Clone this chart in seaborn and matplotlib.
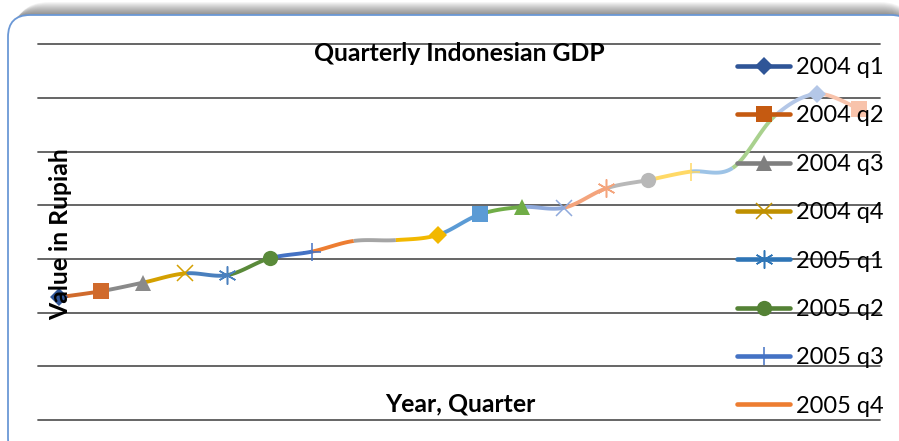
import numpy as np
import matplotlib
matplotlib.use("Agg")
import matplotlib.pyplot as plt
from matplotlib.patches import FancyBboxPatch
from matplotlib.lines import Line2D
import seaborn as sns
import pandas as pd

# ---- data ----
quarters = [f"{y} q{q}" for y in range(2004, 2009) for q in range(1, 5)]
gdp_values = [397.2, 400.0, 404.0, 408.3, 407.5, 415.3, 418.4, 423.4, 423.8, 426.2,
              435.8, 439.2, 438.9, 447.9, 451.8, 455.7, 457.4, 481.6, 491.9, 484.9]
legend_shown = quarters[:8]

point_colors = ["#2F5597", "#D06A2C", "#8A8A8A", "#D4A000", "#4A80BE", "#5A8A3A",
                "#4472C4", "#ED7D31", "#A5A5A5", "#F2B800", "#5B9BD5", "#70AD47",
                "#8FAADC", "#F4A47C", "#B8B8B8", "#FFD966", "#9DC3E6", "#A9D18E",
                "#B4C7E7", "#F8C3AB"]
legend_colors = ["#2F5597", "#C55A11", "#7F7F7F", "#BF9000", "#2E75B6", "#548235",
                 "#4472C4", "#ED7D31"]
markers = ["D", "s", "^", "x", (6, 2, 0), "o", "+", None, None,
           "D", "s", "^", "x", (6, 2, 0), "o", "+", None, None, "D", "s"]
msizes = {"D": 9, "s": 11.5, "^": 11, "x": 11, "o": 11, "+": 13}

df = pd.DataFrame({"quarter": quarters, "gdp": gdp_values})
df["pos"] = np.arange(len(df))

W, H, DPI = 899, 441, 100
sns.set_theme(style="white")
plt.rcParams["font.family"] = ["Lato", "DejaVu Sans"]
fig = plt.figure(figsize=(W / DPI, H / DPI), dpi=DPI)

# chart border with shadow (in inches, isotropic)
def px(v):
    return v / DPI
for i in range(14):
    sh = FancyBboxPatch((px(8 + i * 0.5), px(H - 460)), px(900), px(460 - 15 + i * 1.0),
                        boxstyle=f"round,pad=0,rounding_size={px(22 + i)}",
                        transform=fig.dpi_scale_trans, facecolor="#000000",
                        edgecolor="none", alpha=0.04, zorder=-10)
    fig.patches.append(sh)
box = FancyBboxPatch((px(8), px(H - 460)), px(905), px(460 - 15),
                     boxstyle=f"round,pad=0,rounding_size={px(22)}",
                     transform=fig.dpi_scale_trans, facecolor="white",
                     edgecolor="#6B98D6", linewidth=1.3, zorder=-5)
fig.patches.append(box)

ax = fig.add_axes([38 / W, (H - 420) / H, (880 - 38) / W, (420 - 44.3) / H])
ax.set_facecolor("none")
ax.set_xlim(-0.5, len(df) - 0.5)
ymin, step = 340, 25
ax.set_ylim(ymin, ymin + 7 * step)
for k in range(8):
    ax.axhline(ymin + k * step, color="#595959", lw=1.3, zorder=1, clip_on=False)
for s in ax.spines.values():
    s.set_visible(False)
ax.set_xticks([])
ax.set_yticks([])

# smoothed segments (Bezier like Excel smooth line)
x = df["pos"].to_numpy(float)
y = df["gdp"].to_numpy(float)
n = len(x)
t = np.linspace(0, 1, 30)
for i in range(n - 1):
    p0 = np.array([x[max(i - 1, 0)], y[max(i - 1, 0)]])
    p1 = np.array([x[i], y[i]])
    p2 = np.array([x[i + 1], y[i + 1]])
    p3 = np.array([x[min(i + 2, n - 1)], y[min(i + 2, n - 1)]])
    c1 = p1 + (p2 - p0) / 6
    c2 = p2 - (p3 - p1) / 6
    b = ((1 - t) ** 3)[:, None] * p1 + (3 * (1 - t) ** 2 * t)[:, None] * c1 + \
        (3 * (1 - t) * t ** 2)[:, None] * c2 + (t ** 3)[:, None] * p2
    seg = pd.DataFrame({"x": b[:, 0], "y": b[:, 1]})
    sns.lineplot(data=seg, x="x", y="y", sort=False, ax=ax, color=point_colors[i + 1],
                 lw=2.8, zorder=3, solid_capstyle="butt")

for i in range(n):
    m = markers[i]
    if m is None:
        continue
    if m == (6, 2, 0):
        ax.plot(x[i], y[i], marker=m, ms=13, mew=1.1, color=point_colors[i],
                zorder=5, ls="none")
    elif m in ("x", "+"):
        ax.plot(x[i], y[i], marker=m, ms=msizes[m], mew=1.1, color=point_colors[i],
                zorder=5, ls="none")
    else:
        ax.plot(x[i], y[i], marker=m, ms=msizes[m], mew=0, color=point_colors[i],
                zorder=5, ls="none")
ax.set_xlabel("")
ax.set_ylabel("")

# legend
handles = []
for i, lab in enumerate(legend_shown):
    m = markers[i]
    kw = dict(color=legend_colors[i], lw=3.3)
    if m is None:
        h = Line2D([], [], **kw)
    elif m in ("x", "+", (6, 2, 0)):
        h = Line2D([], [], marker=m, ms=13 if m != "x" else 11, mew=1.1, **kw)
    else:
        h = Line2D([], [], marker=m, ms=msizes[m], mew=0, **kw)
    handles.append(h)
leg = ax.legend(handles, legend_shown, loc="upper left",
                bbox_to_anchor=(737 / W, 1 - 57 / H), bbox_transform=fig.transFigure,
                frameon=False, fontsize=17, borderpad=0, borderaxespad=0,
                handlelength=2.25, handletextpad=0.25, labelspacing=1.16)
for txt in leg.get_texts():
    txt.set_color("black")

fig.text(459 / W, 1 - 61 / H, "Quarterly Indonesian GDP", ha="center", va="baseline",
         fontsize=17.8, fontweight="bold", color="black")
fig.text(460 / W, 1 - 411 / H, "Year, Quarter", ha="center", va="baseline",
         fontsize=17.8, fontweight="bold", color="black")
fig.text(68 / W, 1 - 234 / H, "Value in Rupiah", ha="center", va="baseline",
         rotation=90, rotation_mode="anchor", fontsize=17.8, fontweight="bold",
         color="black")

fig.savefig("out.png", dpi=DPI)
